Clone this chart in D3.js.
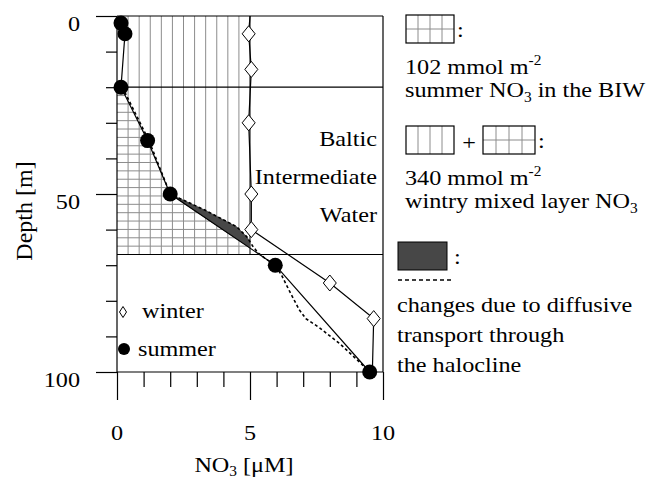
<!DOCTYPE html>
<html><head><meta charset="utf-8">
<script src="https://cdn.jsdelivr.net/npm/d3@7"></script>
<style>body{margin:0;background:#fff;} svg{display:block;}</style>
</head><body>
<svg id="c" width="651" height="481"></svg>
<script>
// ---- data ----
const summerDepth = [2, 5, 20, 35, 50, 70, 100];
const summerNO3   = [0.15, 0.3, 0.15, 1.15, 2.0, 5.95, 9.5];
const winterDepth = [0, 5, 15, 30, 50, 60, 75, 85, 100];
const winterNO3   = [5.0, 4.95, 5.05, 4.95, 5.05, 5.05, 8.0, 9.65, 9.6];
const winterMarker = [false, true, true, true, true, true, true, true, false];
const diffDepth = [20, 35, 50, 54.5, 59.2, 62, 64.6, 66.5, 68, 70, 73, 77.5, 82.5, 85, 87.5, 92.2, 97.8, 100];
const diffNO3   = [0.2, 1.2, 2.0, 3.3, 4.5, 4.88, 5.1, 5.3, 5.55, 5.95, 6.2, 6.5, 6.85, 7.1, 7.6, 8.4, 9.2, 9.45];
const xMinorTicks = [1, 2, 3, 4, 6, 7, 8, 9];
const xMajorTicks = [0, 5, 10];
const xTickLabels = ["0", "5", "10"];
const yMinorTicks = [10, 20, 30, 40, 60, 70, 80, 90];
const yMajorTicks = [0, 50, 100];
const yTickLabels = ["0", "50", "100"];
const layerDepths = [0, 20, 67];       // surface, top of BIW, bottom of winter mixed layer
const mixedLayerNO3 = 5;               // wintry mixed layer concentration
const regionLabels = ["Baltic", "Intermediate", "Water"];
const regionLabelDepths = [35, 45.8, 56.5];

const summer = summerDepth.map((d, i) => ({d, v: summerNO3[i]}));
const winter = winterDepth.map((d, i) => ({d, v: winterNO3[i], m: winterMarker[i]}));
const diff = diffDepth.map((d, i) => ({d, v: diffNO3[i]}));

// ---- setup ----
const FONT = "'Liberation Serif','Times New Roman',Times,serif";
const SX = 1.1, FS = 22;
const svg = d3.select("#c");
const x = d3.scaleLinear().domain([0, 10]).range([117, 383]);
const y = d3.scaleLinear().domain([0, 100]).range([16, 372]);
const line = d3.line().x(p => x(p.v)).y(p => y(p.d));

function txt(g, tx, ty, parts, anchor, subShift) {
  const t = g.append("text")
    .attr("transform", `translate(${tx},${ty}) scale(${SX},1)`)
    .attr("font-family", FONT).attr("font-size", FS).attr("fill", "#000")
    .attr("text-anchor", anchor || "start");
  let shift = 0;
  parts.forEach(p => {
    const [s, k] = Array.isArray(p) ? p : [p, "n"];
    const ts = t.append("tspan").text(s);
    let target = k === "sup" ? -9 : k === "sub" ? (subShift || 5) : 0;
    if (target !== shift) { ts.attr("dy", target - shift); shift = target; }
    if (k !== "n") ts.attr("font-size", 14);
  });
  return t;
}

const defs = svg.append("defs");
defs.append("clipPath").attr("id", "mixclip").append("rect")
  .attr("x", x(0)).attr("y", y(layerDepths[0]))
  .attr("width", x(mixedLayerNO3) - x(0)).attr("height", y(layerDepths[2]) - y(layerDepths[0]));
const sumBelow = summer.filter(p => p.d >= layerDepths[1]);
const biwPoly = [{d: layerDepths[1], v: 0}].concat(sumBelow).concat([{d: 100, v: 0}]);
defs.append("clipPath").attr("id", "biwclip").append("path")
  .attr("d", line(biwPoly) + "Z");

// ---- hatching ----
const hatch = svg.append("g").attr("stroke", "#8c8c8c").attr("stroke-width", 1).attr("fill", "none");
const nV = 12;
d3.range(1, nV).forEach(i => {
  const v = i * mixedLayerNO3 / nV;
  hatch.append("line").attr("x1", x(v)).attr("x2", x(v))
    .attr("y1", y(layerDepths[0])).attr("y2", y(layerDepths[2]));
});
const nH = 20;
const hg = hatch.append("g").attr("clip-path", "url(#biwclip)");
d3.range(1, nH).forEach(j => {
  const d = layerDepths[1] + j * (layerDepths[2] - layerDepths[1]) / nH;
  hg.append("line").attr("x1", x(0)).attr("x2", x(mixedLayerNO3))
    .attr("y1", y(d)).attr("y2", y(d));
});

svg.append("line").attr("x1", x(mixedLayerNO3)).attr("x2", x(mixedLayerNO3))
  .attr("y1", y(layerDepths[0])).attr("y2", y(layerDepths[2]))
  .attr("stroke", "#000").attr("stroke-width", 1);

// ---- frame & axes ----
const frame = svg.append("g").attr("stroke", "#000").attr("stroke-width", 1.2);
layerDepths.concat([100]).forEach(d => {
  frame.append("line").attr("x1", x(0)).attr("x2", x(10)).attr("y1", y(d)).attr("y2", y(d));
});
[0, 10].forEach(v => {
  frame.append("line").attr("x1", x(v)).attr("x2", x(v)).attr("y1", y(0)).attr("y2", y(100));
});
function axisG(ax) {
  const g = svg.append("g").call(ax);
  g.select(".domain").remove();
  g.selectAll("line").attr("stroke", "#000").attr("stroke-width", 1.2);
  return g;
}
axisG(d3.axisLeft(y).tickValues(yMinorTicks).tickSize(11).tickFormat("")).attr("transform", `translate(${x(0)},0)`);
axisG(d3.axisLeft(y).tickValues(yMajorTicks).tickSize(21).tickFormat("")).attr("transform", `translate(${x(0)},0)`);
axisG(d3.axisBottom(x).tickValues(xMinorTicks).tickSize(15).tickFormat("")).attr("transform", `translate(0,${y(100)})`);
axisG(d3.axisBottom(x).tickValues(xMajorTicks).tickSize(28).tickFormat("")).attr("transform", `translate(0,${y(100)})`);

const labels = svg.append("g");
yMajorTicks.forEach((t, i) => txt(labels, 80, y(t) + 15, [yTickLabels[i]], "end"));
xMajorTicks.forEach((t, i) => txt(labels, x(t), 440, [xTickLabels[i]], "middle"));
txt(labels, 244, 472, ["NO", ["3", "sub"], " [μM]"], "middle", 4);
svg.append("text").attr("transform", "translate(32,211) rotate(-90)")
  .attr("font-family", FONT).attr("font-size", 24).attr("text-anchor", "middle")
  .text("Depth [m]");

// ---- dark wedge: diffusive change ----
const wedgeTop = diff.filter(p => p.d >= 50 && p.d <= 70);
const wedgeBot = summer.filter(p => p.d >= 50 && p.d <= 70).reverse();
svg.append("path").attr("clip-path", "url(#mixclip)")
  .attr("d", line(wedgeTop.concat(wedgeBot)) + "Z")
  .attr("fill", "#474747").attr("stroke", "#333").attr("stroke-width", 0.5);

svg.append("path").attr("d", line(diff)).attr("fill", "none")
  .attr("stroke", "#000").attr("stroke-width", 1.6).attr("stroke-dasharray", "3,2.5");

svg.append("path").attr("d", line(summer)).attr("fill", "none").attr("stroke", "#000").attr("stroke-width", 1.2);
svg.append("path").attr("d", line(winter)).attr("fill", "none").attr("stroke", "#000").attr("stroke-width", 1.2);

const diamond = (cx, cy, w, h) => `M${cx},${cy - h}L${cx + w},${cy}L${cx},${cy + h}L${cx - w},${cy}Z`;
svg.append("g").selectAll("path").data(winter.filter(p => p.m)).join("path")
  .attr("d", p => diamond(x(p.v), y(p.d), 6.5, 8))
  .attr("fill", "#fff").attr("stroke", "#000").attr("stroke-width", 1);
svg.append("g").selectAll("circle").data(summer).join("circle")
  .attr("cx", p => x(p.v)).attr("cy", p => y(p.d)).attr("r", 7.5).attr("fill", "#000");

regionLabels.forEach((s, i) => txt(labels, 377, y(regionLabelDepths[i]) + 5, [s], "end"));

// in-plot legend
svg.append("path").attr("d", diamond(123, 312, 3.5, 5.5)).attr("fill", "#fff").attr("stroke", "#000").attr("stroke-width", 1);
txt(labels, 142, 318, ["winter"]);
svg.append("circle").attr("cx", 124).attr("cy", 349).attr("r", 6).attr("fill", "#000");
txt(labels, 138, 356, ["summer"]);

// ---- right-hand key ----
function box(bx, by, w, h, cols, rows) {
  const g = svg.append("g");
  for (let i = 1; i < cols; i++) g.append("line").attr("x1", bx + i * w / cols).attr("x2", bx + i * w / cols)
    .attr("y1", by).attr("y2", by + h).attr("stroke", "#8c8c8c");
  for (let j = 1; j < rows; j++) g.append("line").attr("x1", bx).attr("x2", bx + w)
    .attr("y1", by + j * h / rows).attr("y2", by + j * h / rows).attr("stroke", "#8c8c8c");
  g.append("rect").attr("x", bx).attr("y", by).attr("width", w).attr("height", h)
    .attr("fill", "none").attr("stroke", "#000").attr("stroke-width", 1.2);
}
box(406, 15, 48, 28, 4, 2);
txt(labels, 457, 37, [":"]);
txt(labels, 405, 74, ["102 mmol m", ["-2", "sup"]]);
txt(labels, 405, 97, ["summer NO", ["3", "sub"], " in the BIW"]);

box(406, 126, 48, 28, 4, 1);
txt(labels, 469, 150, ["+"], "middle");
box(483, 126, 52, 28, 4, 2);
txt(labels, 538, 148, [":"]);
txt(labels, 405, 185, ["340 mmol m", ["-2", "sup"]]);
txt(labels, 405, 208, ["wintry mixed layer NO", ["3", "sub"]]);

svg.append("rect").attr("x", 398).attr("y", 242).attr("width", 49).attr("height", 28)
  .attr("fill", "#474747").attr("stroke", "#000").attr("stroke-width", 1);
txt(labels, 454, 264, [":"]);
svg.append("line").attr("x1", 398).attr("x2", 454).attr("y1", 280).attr("y2", 280)
  .attr("stroke", "#000").attr("stroke-width", 1.6).attr("stroke-dasharray", "4,3");
txt(labels, 397, 312, ["changes due to diffusive"]);
txt(labels, 397, 342, ["transport through"]);
txt(labels, 397, 372, ["the halocline"]);
</script>
</body></html>
